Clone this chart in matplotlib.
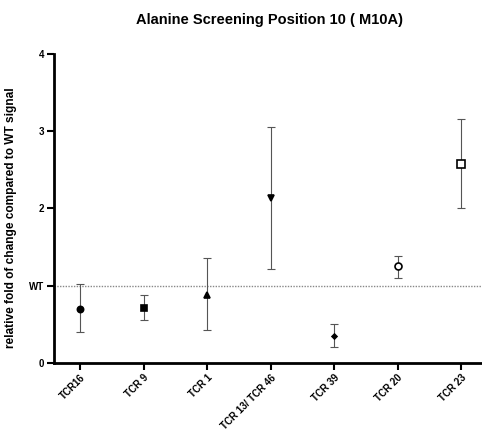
import numpy as np
import matplotlib.pyplot as plt

plt.rcParams['font.family'] = ['Liberation Sans', 'DejaVu Sans']

# данные
labels = ['TCR16', 'TCR 9', 'TCR 1', 'TCR 13/ TCR 46', 'TCR 39', 'TCR 20', 'TCR 23']
means = [0.70, 0.715, 0.88, 2.14, 0.35, 1.25, 2.58]
upper = [1.02, 0.88, 1.36, 3.05, 0.50, 1.39, 3.16]
lower = [0.40, 0.56, 0.43, 1.22, 0.21, 1.10, 2.01]
markers = ['o', 's', '^', 'v', 'D', 'o', 's']
filled = [True, True, True, True, True, False, False]
sizes = [4.5, 5, 4, 4, 2.5, 5, 5.5]

y_ticks = [0, 1, 2, 3, 4]
y_tick_labels = ['0', 'WT', '2', '3', '4']

fig = plt.figure(figsize=(4.82, 4.38), dpi=100)
ax = fig.add_axes([0.112, 0.171, 0.888, 0.706])

x = np.arange(len(labels))

# пунктир уровня WT
ax.axhline(1.0, color='#888888', lw=1.0, ls=(0, (1, 1)), zorder=1)

for i in x:
    m = means[i]
    err = [[m - lower[i]], [upper[i] - m]]
    ax.errorbar(i, m, yerr=err, fmt='none', ecolor='#555555', elinewidth=0.8,
                capsize=3, capthick=0.8, zorder=2)
    ax.plot(i, m, marker=markers[i], ms=sizes[i], color='black',
            mfc='black' if filled[i] else 'white', mew=1.2, zorder=3)

ax.set_xlim(-0.41, 6.33)
ax.set_ylim(0, 4)
ax.set_yticks(y_ticks)
ax.set_yticklabels(y_tick_labels, fontsize=7, fontweight='bold')
ax.set_xticks(x)
ax.set_xticklabels(labels, rotation=45, ha='right', rotation_mode='anchor',
                   fontsize=7, fontweight='bold')

for side in ['top', 'right']:
    ax.spines[side].set_visible(False)
for side in ['left', 'bottom']:
    ax.spines[side].set_linewidth(2)
ax.tick_params(axis='both', width=1.5, length=5, pad=2)

ax.set_ylabel('relative fold of change compared to WT signal', fontsize=8.6,
              fontweight='bold')
ax.yaxis.set_label_coords(-0.087, 0.47)
fig.suptitle('Alanine Screening Position 10 ( M10A)', x=0.56, y=0.97,
             fontsize=10.5, fontweight='bold')

fig.savefig('out.png', dpi=100)
